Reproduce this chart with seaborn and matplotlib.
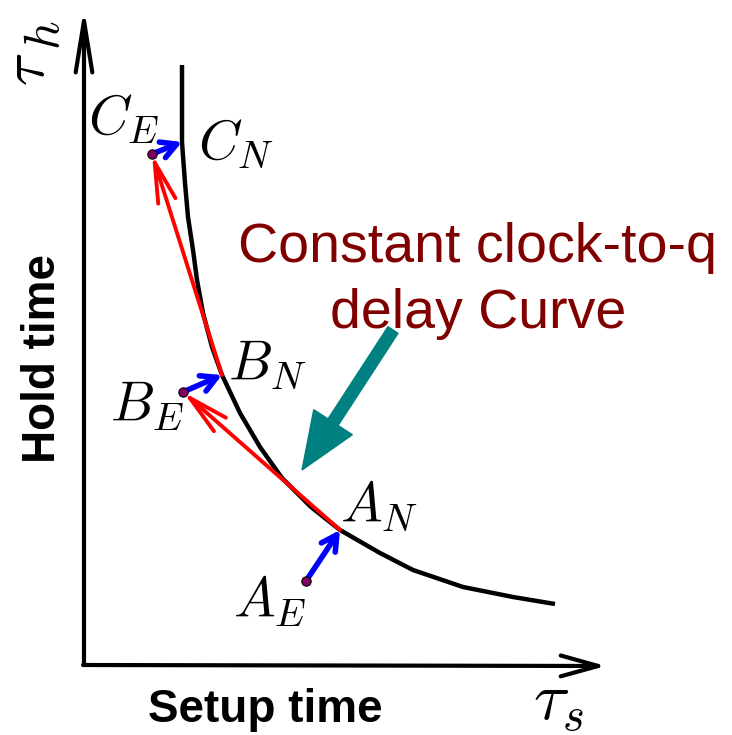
import matplotlib
matplotlib.use("Agg")
import matplotlib.pyplot as plt
import seaborn as sns
import pandas as pd

# ---- data (diagram units: setup time on x, hold time on y) ----
curve_setup = [98, 98, 98, 101, 104, 109, 113, 119, 128, 138, 156, 176, 198, 227, 256, 296, 329, 379, 429, 471]
curve_hold = [598, 563, 521, 480, 446, 413, 383, 350, 316, 288, 250, 216, 185, 156, 133, 110, 93, 76, 66, 59]

point_names = ["A", "B", "C"]
nominal_setup = [256, 138, 98]     # A_N, B_N, C_N
nominal_hold = [133, 288, 521]
early_setup = [222, 99, 68]        # A_E, B_E, C_E
early_hold = [82, 271, 509]

sns.set_theme(style="white")
plt.rcParams["font.family"] = ["Liberation Sans", "DejaVu Sans"]
plt.rcParams["mathtext.fontset"] = "cm"
plt.rcParams["text.color"] = "black"

fig = plt.figure(figsize=(7.32, 7.35), dpi=100)
ax = fig.add_axes([0, 0, 1, 1])
ax.set_xlim(-84, 648)
ax.set_ylim(-72, 663)
ax.axis("off")

# axes arrows
ax.annotate("", xy=(0, 655), xytext=(0, -2),
            arrowprops=dict(arrowstyle="->,head_length=3.7,head_width=0.6",
                            lw=3, color="black", shrinkA=0, shrinkB=0, mutation_scale=10))
ax.annotate("", xy=(522, -3), xytext=(-1, -2),
            arrowprops=dict(arrowstyle="->,head_length=2.7,head_width=0.75",
                            lw=3, color="black", shrinkA=0, shrinkB=0, mutation_scale=10))

# constant clock-to-q curve
df = pd.DataFrame({"setup": curve_setup, "hold": curve_hold})
sns.lineplot(data=df, x="setup", y="hold", sort=False, estimator=None, color="black",
             lw=3.2, ax=ax, solid_joinstyle="round", solid_capstyle="butt")

# red arrows: A_N -> B_E, B_N -> C_E
for i_from, i_to in [(0, 1), (1, 2)]:
    ax.annotate("", xy=(early_setup[i_to], early_hold[i_to]),
                xytext=(nominal_setup[i_from], nominal_hold[i_from]),
                arrowprops=dict(arrowstyle="->,head_length=2.9,head_width=0.65",
                                lw=2.8, color="red", shrinkA=0, shrinkB=0, mutation_scale=10))

# blue arrows: early -> nominal
for i in range(3):
    ax.annotate("", xy=(nominal_setup[i], nominal_hold[i]),
                xytext=(early_setup[i], early_hold[i]),
                arrowprops=dict(arrowstyle="->,head_length=1.1,head_width=0.6",
                                lw=4.0, color="blue", shrinkA=0, shrinkB=0, mutation_scale=10))

# early points
pts = pd.DataFrame({"setup": early_setup, "hold": early_hold})
sns.scatterplot(data=pts, x="setup", y="hold", color="#800060", edgecolor="black",
                linewidth=0.8, s=45, zorder=5, ax=ax)

# teal pointer arrow
ax.arrow(309, 333, 218 - 309, 193 - 333, width=12, head_width=46, head_length=57,
         length_includes_head=True, color="#008080", zorder=4)

# point labels (left edge, baseline)
msz = 40
ax.text(4, 528, r"$C_E$", fontsize=msz, ha="left", va="baseline")
ax.text(114, 503, r"$C_N$", fontsize=msz, ha="left", va="baseline")
ax.text(144, 282, r"$B_N$", fontsize=msz, ha="left", va="baseline")
ax.text(26, 241, r"$B_E$", fontsize=msz, ha="left", va="baseline")
ax.text(256, 140, r"$A_N$", fontsize=msz, ha="left", va="baseline")
ax.text(149, 45, r"$A_E$", fontsize=msz, ha="left", va="baseline")

# annotation text
ax.text(394, 401, "Constant clock-to-q", fontsize=40, color="#800000",
        ha="center", va="baseline")
ax.text(394, 335, "delay Curve", fontsize=40, color="#800000",
        ha="center", va="baseline")

# axis labels
ax.text(-29, 305, "Hold time", fontsize=33, fontweight="bold", rotation=90,
        rotation_mode="anchor", ha="center", va="baseline")
ax.text(181, -59, "Setup time", fontsize=33, fontweight="bold",
        ha="center", va="baseline")
ax.text(-40, 577, r"$\tau$", fontsize=44, rotation=90, rotation_mode="anchor",
        ha="left", va="baseline")
ax.text(-25, 613, r"$h$", fontsize=36, rotation=90, rotation_mode="anchor",
        ha="left", va="baseline")
ax.text(449, -57, r"$\tau_s$", fontsize=48, ha="left", va="baseline")

fig.savefig("out.png", dpi=100)
